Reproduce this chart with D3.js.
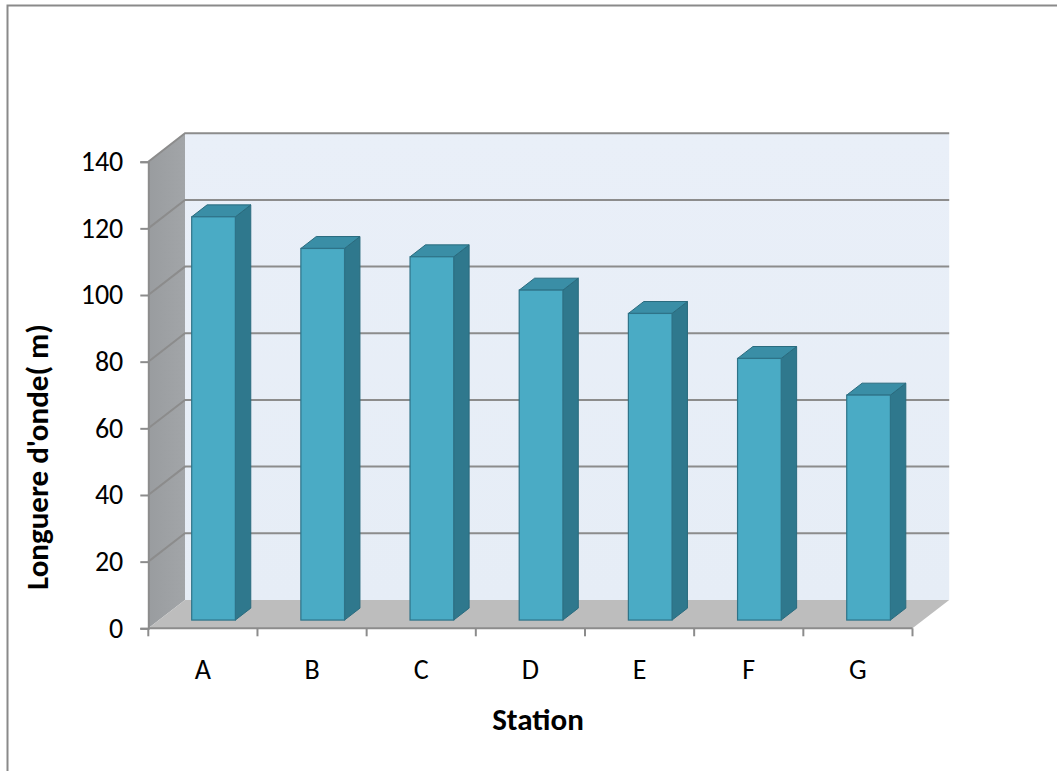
<!DOCTYPE html>
<html>
<head>
<meta charset="utf-8">
<script src="https://cdn.jsdelivr.net/npm/d3@7"></script>
<style>
  html, body { margin: 0; padding: 0; background: #ffffff; }
  svg { display: block; }
  text { font-family: Carlito, Lato, "Liberation Sans", sans-serif; fill: #000; }
</style>
</head>
<body>
<svg id="chart" width="1057" height="771"></svg>
<script>
// Wavelength per station
const categories = ["A", "B", "C", "D", "E", "F", "G"];
const values = [121, 111.5, 109, 99, 92, 78.5, 67.5];
const yTicks = [0, 20, 40, 60, 80, 100, 120, 140];
const yTitle = "Longuere d'onde( m)";
const xTitle = "Station";

const svg = d3.select("#chart");

// Front plane of the 3D box
const frontLeft = 148.3, frontRight = 912.5;
const frontBottom = 628.3, frontTop = 161.7;
// Oblique depth offset (full depth of the box)
const DX = 36.7, DY = 28.4;
// Depth range occupied by the columns (fraction of full depth)
const barF0 = 0.29, barF1 = 0.71;
const barWidthFrac = 0.40;

const y = d3.scaleLinear().domain([0, 140]).range([frontBottom, frontTop]);
const x = d3.scaleBand().domain(categories).range([frontLeft, frontRight]).padding(0);

// Project a point (px on front plane, value v, depth fraction f)
const P = (px, v, f) => [px + DX * f, y(v) - DY * f];
const pts = arr => arr.map(p => p.join(",")).join(" ");

// Outer frame
svg.append("rect")
  .attr("x", 7.5).attr("y", 5.5)
  .attr("width", 1200).attr("height", 900)
  .attr("fill", "none").attr("stroke", "#8a8a8a").attr("stroke-width", 2);

const defs = svg.append("defs");
const wallGrad = defs.append("linearGradient").attr("id", "wallGrad")
  .attr("x1", 0).attr("y1", 0).attr("x2", 0).attr("y2", 1);
wallGrad.append("stop").attr("offset", 0).attr("stop-color", "#e9eff8");
wallGrad.append("stop").attr("offset", 1).attr("stop-color", "#e6edf6");
const sideGrad = defs.append("linearGradient").attr("id", "sideGrad")
  .attr("x1", 0).attr("y1", 0).attr("x2", 1).attr("y2", 0);
sideGrad.append("stop").attr("offset", 0).attr("stop-color", "#999c9f");
sideGrad.append("stop").attr("offset", 1).attr("stop-color", "#a2a5a8");

// Back wall
svg.append("polygon")
  .attr("points", pts([P(frontLeft, 140, 1), P(frontRight, 140, 1), P(frontRight, 0, 1), P(frontLeft, 0, 1)]))
  .attr("fill", "url(#wallGrad)");

// Side wall
svg.append("polygon")
  .attr("points", pts([P(frontLeft, 140, 0), P(frontLeft, 140, 1), P(frontLeft, 0, 1), P(frontLeft, 0, 0)]))
  .attr("fill", "url(#sideGrad)");

// Floor
svg.append("polygon")
  .attr("points", pts([P(frontLeft, 0, 0), P(frontLeft, 0, 1), P(frontRight, 0, 1), P(frontRight, 0, 0)]))
  .attr("fill", "#bdbdbd");

// Gridlines on back wall and side wall
const grid = svg.append("g").attr("class", "grid");
yTicks.filter(t => t > 0).forEach(t => {
  const a = P(frontLeft, t, 0), b = P(frontLeft, t, 1), c = P(frontRight, t, 1);
  grid.append("polyline")
    .attr("points", pts([a, b, c]))
    .attr("fill", "none").attr("stroke", "#8c8c8c").attr("stroke-width", 2);
});

// Front axis line along the floor edge
svg.append("line")
  .attr("x1", frontLeft).attr("x2", frontRight)
  .attr("y1", frontBottom).attr("y2", frontBottom)
  .attr("stroke", "#8c8c8c").attr("stroke-width", 2);

// Columns
const bars = svg.append("g").attr("class", "bars");
categories.forEach((c, i) => {
  const v = values[i];
  const bw = x.bandwidth() * barWidthFrac;
  const x0 = x(c) + (x.bandwidth() - bw) / 2, x1 = x0 + bw;
  const g = bars.append("g");
  // right side face
  g.append("polygon")
    .attr("points", pts([P(x1, 0, barF0), P(x1, v, barF0), P(x1, v, barF1), P(x1, 0, barF1)]))
    .attr("fill", "#2f788d").attr("stroke", "#2a6b7e").attr("stroke-width", 1);
  // top face
  g.append("polygon")
    .attr("points", pts([P(x0, v, barF0), P(x0, v, barF1), P(x1, v, barF1), P(x1, v, barF0)]))
    .attr("fill", "#3a8ea6").attr("stroke", "#2a6b7e").attr("stroke-width", 1);
  // front face
  const a = P(x0, v, barF0), b = P(x1, 0, barF0);
  g.append("rect")
    .attr("x", a[0]).attr("y", a[1])
    .attr("width", b[0] - a[0]).attr("height", b[1] - a[1])
    .attr("fill", "#4aabc5").attr("stroke", "#2e7388").attr("stroke-width", 1.2);
});

// Y axis
const yAxis = svg.append("g")
  .attr("transform", `translate(${frontLeft},0)`)
  .call(d3.axisLeft(y).tickValues(yTicks).tickSize(8).tickPadding(17));
yAxis.select(".domain").attr("stroke", "#8c8c8c").attr("stroke-width", 2);
yAxis.selectAll(".tick line").attr("stroke", "#8c8c8c").attr("stroke-width", 2);
yAxis.selectAll(".tick text")
  .style("font-family", "Carlito, Lato, 'Liberation Sans', sans-serif")
  .style("font-size", "28px").attr("fill", "#000");

// X axis: ticks at category boundaries, labels at centres
const xAxis = svg.append("g")
  .attr("transform", `translate(0,${frontBottom})`)
  .call(d3.axisBottom(x).tickSize(0).tickPadding(31));
xAxis.select(".domain").remove();
xAxis.selectAll(".tick text")
  .style("font-family", "Carlito, Lato, 'Liberation Sans', sans-serif")
  .style("font-size", "28px").attr("fill", "#000");
const bounds = categories.map(c => x(c)).concat([frontRight]);
svg.append("g").selectAll("line").data(bounds).join("line")
  .attr("x1", d => d).attr("x2", d => d)
  .attr("y1", frontBottom).attr("y2", frontBottom + 8)
  .attr("stroke", "#8c8c8c").attr("stroke-width", 2);

// Axis titles
svg.append("text")
  .attr("transform", "translate(48,457) rotate(-90)")
  .attr("text-anchor", "middle")
  .style("font-size", "31px").style("font-weight", "bold")
  .text(yTitle);
svg.append("text")
  .attr("x", 538).attr("y", 730)
  .attr("text-anchor", "middle")
  .style("font-size", "31px").style("font-weight", "bold")
  .text(xTitle);
</script>
</body>
</html>
